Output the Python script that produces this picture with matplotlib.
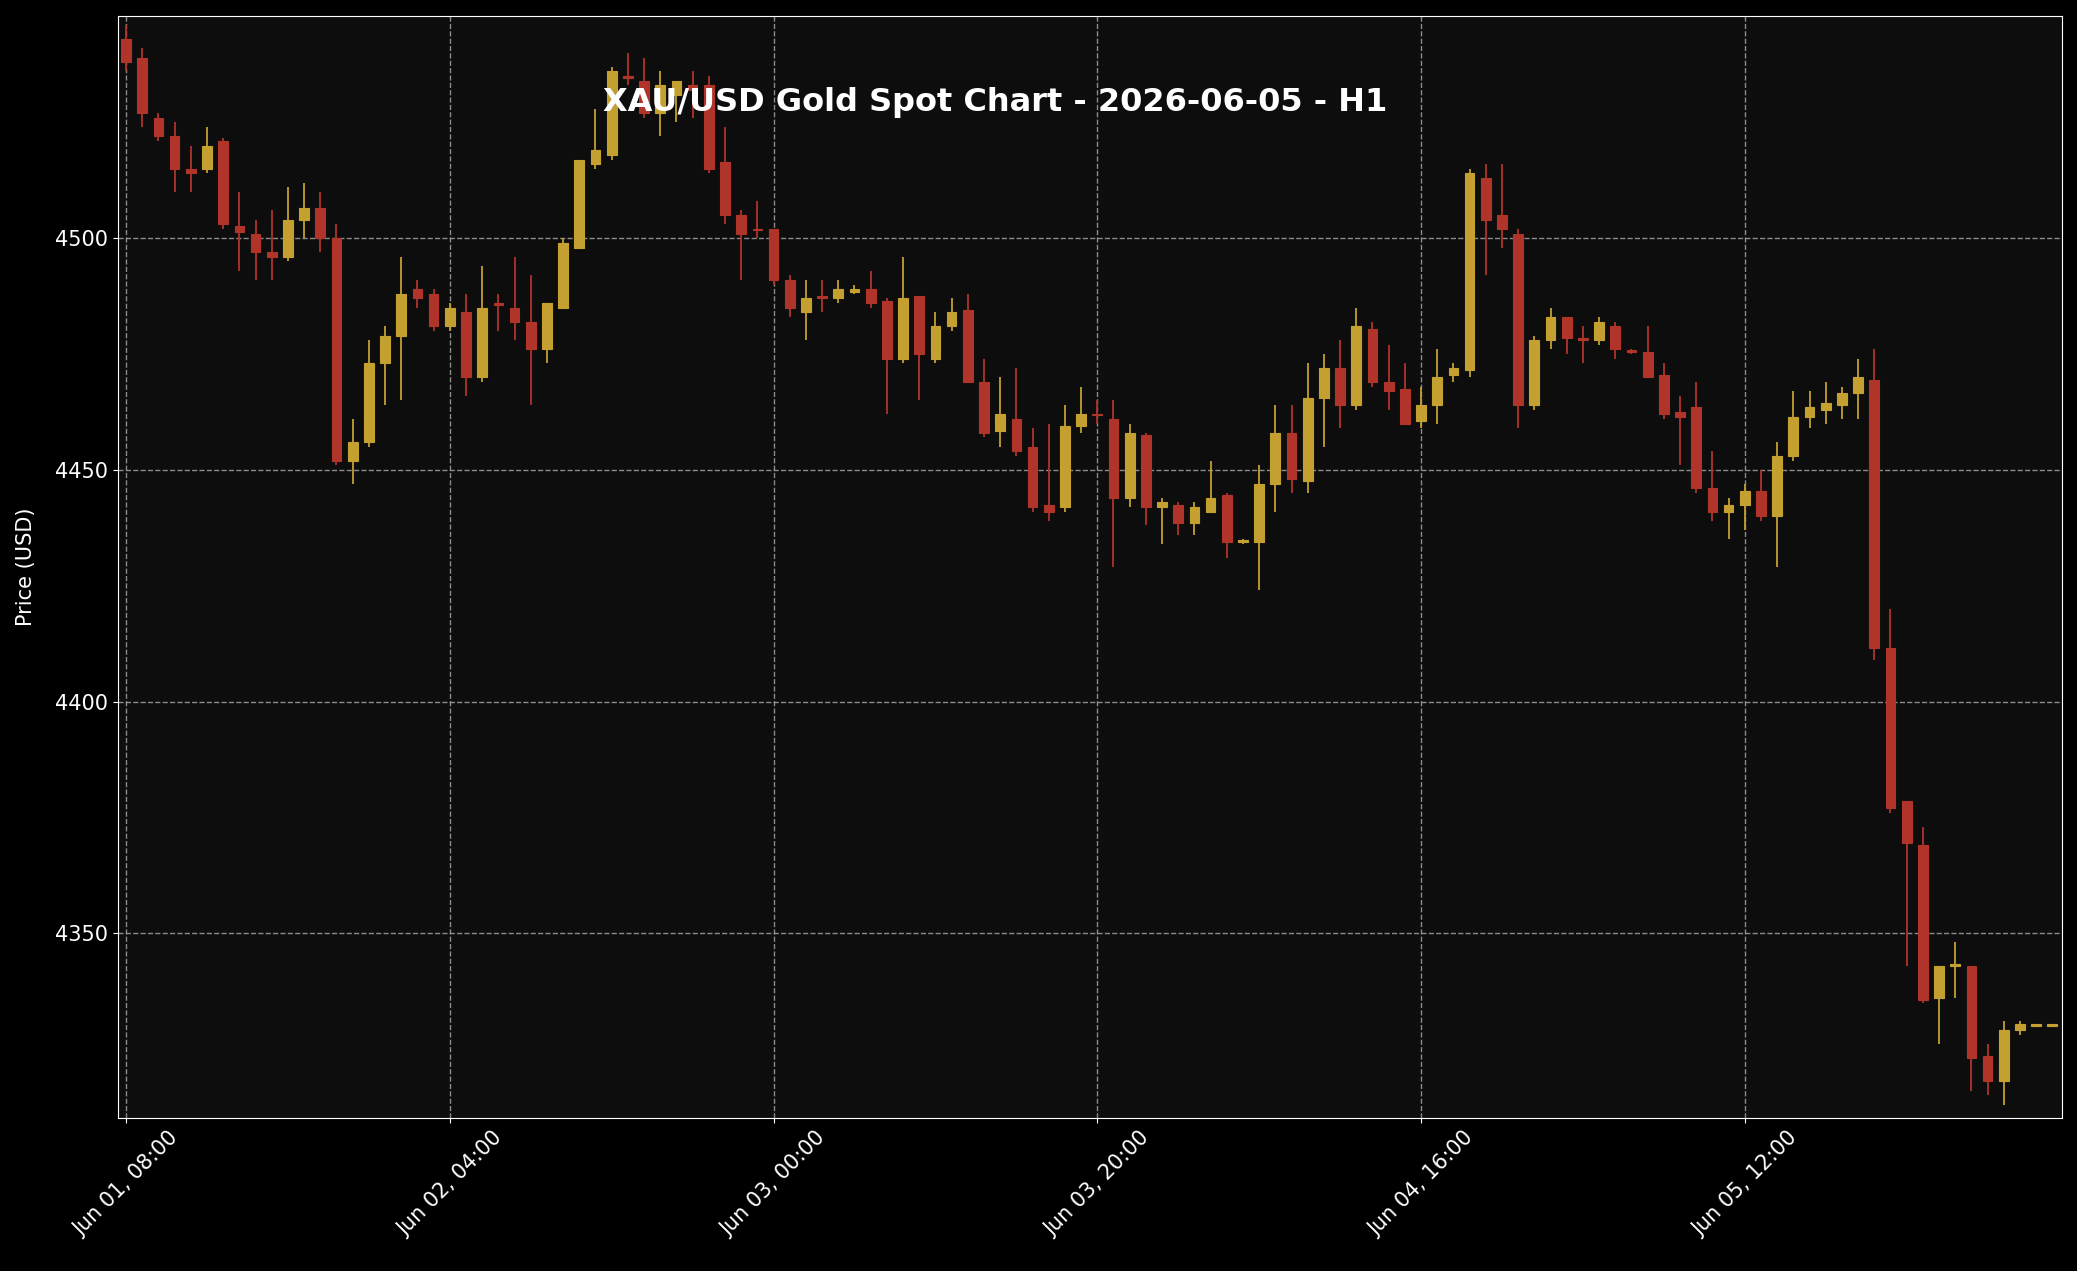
import numpy as np
import matplotlib.pyplot as plt

opens = [4543, 4539, 4526, 4522, 4515, 4515, 4521, 4502.6, 4501, 4497,
         4496, 4504, 4506.5, 4500, 4452, 4456, 4473, 4479, 4489, 4488,
         4481, 4484, 4470, 4486, 4485, 4482, 4476, 4485, 4498, 4516,
         4518, 4535, 4534, 4527, 4531, 4533, 4533, 4516.5, 4505, 4502,
         4502, 4491, 4484, 4487.5, 4487, 4488.5, 4489, 4486.5, 4474, 4487.5,
         4474, 4481, 4484.5, 4469, 4458.5, 4461, 4455, 4442.5, 4442, 4459.5,
         4462, 4461, 4444, 4457.5, 4442, 4442.5, 4438.5, 4441, 4444.5, 4434.5,
         4434.5, 4447, 4458, 4447.5, 4465.5, 4472, 4464, 4480.5, 4469, 4467.5,
         4460.5, 4464, 4470.5, 4471.5, 4513, 4505, 4501, 4464, 4478, 4483,
         4478.5, 4478, 4481, 4475.6, 4475.5, 4470.5, 4462.5, 4463.5, 4446, 4441,
         4442.5, 4445.5, 4440, 4453, 4461.5, 4463, 4464, 4466.5, 4469.5, 4411.5,
         4378.5, 4369, 4336, 4343, 4343, 4323.5, 4318, 4329, 4330, 4330]
highs = [4546, 4541, 4527, 4525, 4520, 4524, 4521.7, 4510, 4504, 4506,
         4511, 4512, 4510, 4503, 4461, 4478, 4481, 4496, 4491, 4489,
         4486, 4488, 4494, 4488, 4496, 4492, 4486, 4500, 4517, 4528,
         4537, 4540, 4539, 4536, 4534, 4536, 4535, 4524, 4506, 4508,
         4502, 4492, 4491, 4491, 4491, 4490, 4493, 4487, 4496, 4487.5,
         4484, 4487, 4488, 4474, 4470, 4472, 4459, 4460, 4464, 4468,
         4465, 4465, 4460, 4458, 4444, 4443, 4443, 4452, 4445, 4435,
         4451, 4464, 4464, 4473, 4475, 4478, 4485, 4482, 4477, 4473,
         4468, 4476, 4473, 4515, 4516, 4516, 4502, 4479, 4485, 4483,
         4481, 4483, 4482, 4476, 4481, 4473, 4466, 4469, 4454, 4444,
         4447, 4450, 4456, 4467, 4467, 4469, 4468, 4474, 4476, 4420,
         4378.5, 4373, 4343, 4348, 4343, 4326, 4331, 4331, 4330.2, 4330.2]
lows = [4536, 4524, 4521, 4510, 4510, 4514, 4502, 4493, 4491, 4491,
        4495, 4500, 4497, 4451, 4447, 4455, 4464, 4465, 4485, 4480,
        4480, 4466, 4469, 4480, 4478, 4464, 4473, 4485, 4498, 4515,
        4517, 4533, 4526, 4522, 4525, 4526, 4514, 4503, 4491, 4500,
        4490, 4483, 4478, 4484, 4486, 4488, 4485, 4462, 4473, 4465,
        4473, 4480, 4469, 4457, 4455, 4453, 4441, 4439, 4441, 4458,
        4460, 4429, 4442, 4438, 4434, 4436, 4436, 4441, 4431, 4434,
        4424, 4441, 4445, 4445, 4455, 4459, 4463, 4468, 4463, 4460,
        4459, 4460, 4469, 4470, 4492, 4498, 4459, 4463, 4476, 4475,
        4473, 4477, 4474, 4475, 4470, 4461, 4451, 4445, 4439, 4435,
        4437, 4439, 4429, 4452, 4459, 4460, 4461, 4461, 4409, 4376,
        4343, 4335, 4326, 4336, 4316, 4315, 4313, 4328, 4329.8, 4329.8]
closes = [4538, 4527, 4522, 4515, 4514, 4520, 4503, 4501.4, 4497, 4496,
          4504, 4506.5, 4500, 4452, 4456, 4473, 4479, 4488, 4487, 4481,
          4485, 4470, 4485, 4485.5, 4482, 4476, 4486, 4499, 4517, 4519,
          4536, 4534.5, 4527, 4533, 4534, 4532, 4515, 4505, 4501, 4501.8,
          4491, 4485, 4487, 4487, 4489, 4489, 4486, 4474, 4487, 4475,
          4481, 4484, 4469, 4458, 4462, 4454, 4442, 4441, 4459.5, 4462,
          4461.8, 4444, 4458, 4442, 4443, 4438.5, 4442, 4444, 4434.5, 4434.7,
          4447, 4458, 4448, 4465.5, 4472, 4464, 4481, 4469, 4467, 4460,
          4464, 4470, 4472, 4514, 4504, 4502, 4464, 4478, 4483, 4478.5,
          4478, 4482, 4476, 4475.5, 4470, 4462, 4461.5, 4446, 4441, 4442.5,
          4445.5, 4440, 4453, 4461.5, 4463.5, 4464.5, 4466.5, 4470, 4411.5, 4377,
          4369.5, 4335.5, 4343, 4343.3, 4323, 4318, 4329, 4330.3, 4330, 4330]

tick_pos = [0, 20, 40, 60, 80, 100]
tick_labels = ['Jun 01, 08:00', 'Jun 02, 04:00', 'Jun 03, 00:00',
               'Jun 03, 20:00', 'Jun 04, 16:00', 'Jun 05, 12:00']

up_col = '#c4a030'
down_col = '#b0342a'

fig = plt.figure(figsize=(20.77, 12.71), dpi=100, facecolor='black')
ax = fig.add_axes([0.0568, 0.12, 0.936, 0.8675])
ax.set_facecolor('#0d0d0d')

x = np.arange(len(opens))
o = np.array(opens); h = np.array(highs); l = np.array(lows); c = np.array(closes)
cols = [up_col if cc >= oo else down_col for oo, cc in zip(o, c)]
ax.vlines(x, l, h, colors=cols, linewidth=1.3, zorder=2)
body = np.maximum(np.abs(c - o), 0.3)
ax.bar(x, body, bottom=np.minimum(o, c), width=0.6, color=cols,
       edgecolor=cols, linewidth=0.8, zorder=3)

ax.set_xlim(-0.5, 119.6)
ax.set_ylim(4310, 4548)
ax.set_yticks([4350, 4400, 4450, 4500])
ax.set_xticks(tick_pos)
ax.set_xticklabels(tick_labels, rotation=45)
ax.tick_params(colors='white', labelsize=15)
ax.grid(True, color='#aaaaaa', linestyle='--', linewidth=1, alpha=0.8)
ax.set_axisbelow(True)
for s in ax.spines.values():
    s.set_color('white')
ax.set_ylabel('Price (USD)', color='white', fontsize=15, labelpad=14)

fig.text(0.479, 0.919, 'XAU/USD Gold Spot Chart - 2026-06-05 - H1', color='white',
         fontsize=23, fontweight='bold', ha='center', va='center', zorder=10)

fig.savefig('out.png', facecolor='black')
